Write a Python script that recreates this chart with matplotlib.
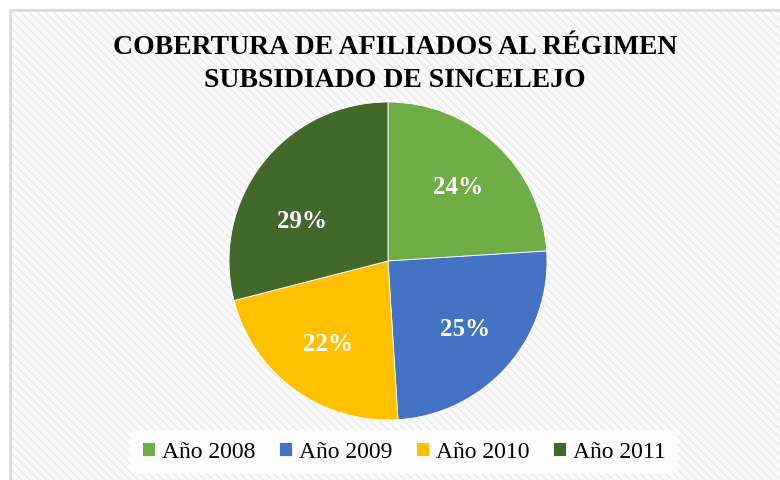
import numpy as np
import matplotlib.pyplot as plt
from matplotlib.patches import Rectangle

# Datos del gráfico
anios = ['Año 2008', 'Año 2009', 'Año 2010', 'Año 2011']
porcentajes = [24, 25, 22, 29]
colores = ['#70AD47', '#4472C4', '#FFC000', '#43682B']

plt.rcParams['font.family'] = ['Liberation Serif', 'DejaVu Serif']
plt.rcParams['hatch.color'] = '#ececec'

fig = plt.figure(figsize=(7.8, 4.81), dpi=100)
fig.patch.set_facecolor('white')

# Fondo con rayas diagonales y borde gris
fondo = Rectangle((10 / 780, 0), 1, 1 - 11 / 481, transform=fig.transFigure,
                  facecolor='#fbfbfb', edgecolor='#ececec', hatch='\\\\\\\\',
                  linewidth=0, zorder=-2)
fig.patches.append(fondo)
borde = Rectangle((10 / 780, -0.01), 1, 1 - 11 / 481 + 0.01, transform=fig.transFigure,
                  facecolor='none', edgecolor='#d9d9d9', linewidth=2, zorder=-1)
fig.patches.append(borde)

fig.text(395 / 780, 1 - 64 / 481,
         'COBERTURA DE AFILIADOS AL RÉGIMEN\nSUBSIDIADO DE SINCELEJO',
         ha='center', va='center', fontsize=20, fontweight='bold',
         linespacing=1.37)

# Pie: centro (388, 262), radio ~159 px
r = 159
cx, cy = 388, 262
ax = fig.add_axes([(cx - r) / 780, 1 - (cy + r) / 481, 2 * r / 780, 2 * r / 481])
ax.set_zorder(2)
ax.patch.set_visible(False)
wedges, textos, autotextos = ax.pie(
    porcentajes, colors=colores, startangle=90, counterclock=False,
    autopct='%1.0f%%', pctdistance=0.645, radius=1,
    wedgeprops=dict(edgecolor='white', linewidth=0.6))
for t in autotextos:
    t.set_color('white')
    t.set_fontsize(18)
    t.set_fontweight('bold')
# la etiqueta de 2011 aparece algo más abajo en el original
ang = np.deg2rad(155)
autotextos[3].set_position((0.6 * np.cos(ang), 0.6 * np.sin(ang)))
ax.set_xlim(-1, 1)
ax.set_ylim(-1, 1)
ax.set_aspect('equal')

leg = fig.legend(wedges, anios, loc='center', bbox_to_anchor=(404 / 780, 1 - 453 / 481),
                 ncol=4, frameon=True, fontsize=17, handlelength=0.55, handleheight=0.55,
                 handletextpad=0.3, columnspacing=1.0, borderpad=0.45)
leg.get_frame().set_facecolor('#fcfcfc')
leg.get_frame().set_edgecolor('none')
leg.get_frame().set_alpha(1)
leg.set_zorder(3)

fig.savefig('out.png', dpi=100)
